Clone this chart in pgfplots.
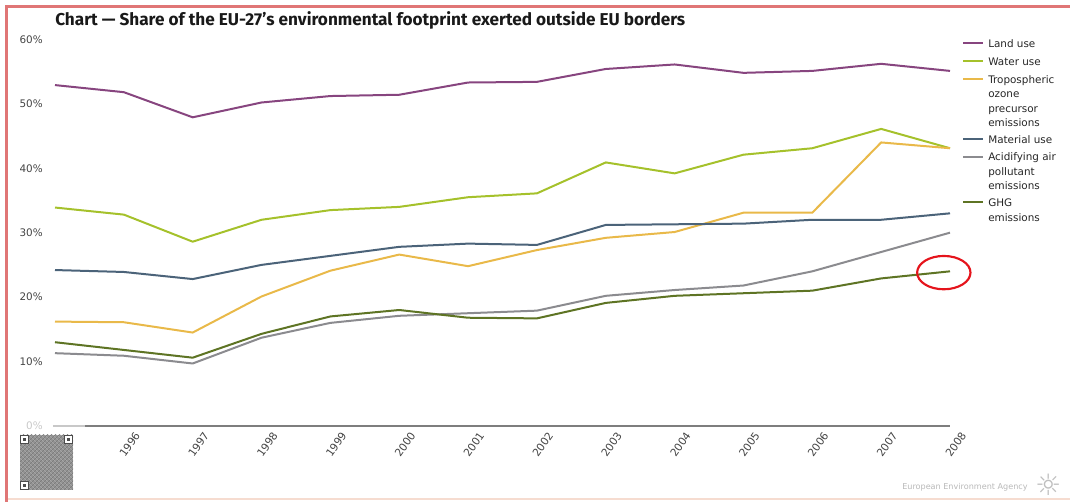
\documentclass[border=0pt]{standalone}
\usepackage{fontspec}
\usepackage{pgfplots}
\pgfplotsset{compat=1.18}
\usetikzlibrary{patterns}
\setmainfont{DejaVu Sans}
\newfontfamily\titlefont{Fira Sans}

\definecolor{landuse}{HTML}{87457F}
\definecolor{wateruse}{HTML}{A5C12B}
\definecolor{ozone}{HTML}{E9B949}
\definecolor{material}{HTML}{4B6379}
\definecolor{acid}{HTML}{8B8B8F}
\definecolor{ghg}{HTML}{5E7424}
\definecolor{ticklab}{HTML}{444444}
\definecolor{zerogray}{HTML}{C8C8C8}
\definecolor{axisgray}{HTML}{7E7E7E}
\definecolor{frame}{HTML}{E07676}
\definecolor{framelow}{HTML}{F6DCD0}
\definecolor{ringred}{HTML}{E5141C}

\pgfplotstableread{
year land water ozone material acid ghg
1995 52.9 33.9 16.2 24.2 11.3 13.0
1996 51.8 32.8 16.1 23.9 10.9 11.8
1997 47.9 28.6 14.5 22.8  9.7 10.6
1998 50.2 32.0 20.1 25.0 13.7 14.3
1999 51.2 33.5 24.1 26.4 16.0 17.0
2000 51.4 34.0 26.6 27.8 17.1 18.0
2001 53.3 35.5 24.8 28.3 17.5 16.8
2002 53.4 36.1 27.3 28.1 17.9 16.7
2003 55.4 40.9 29.2 31.2 20.2 19.1
2004 56.1 39.2 30.1 31.3 21.1 20.2
2005 54.8 42.1 33.1 31.4 21.8 20.6
2006 55.1 43.1 33.1 32.0 24.0 21.0
2007 56.2 46.1 44.0 32.0 27.0 22.9
2008 55.1 43.1 43.1 33.0 30.0 24.0
}\footprint

\begin{document}
\begin{tikzpicture}
\useasboundingbox (0,0) rectangle (802.5pt,376.5pt);

\begin{axis}[
  at={(41.25pt,57pt)}, anchor=south west,
  scale only axis, width=671.25pt, height=290pt,
  xmin=1995, xmax=2008, ymin=0, ymax=60,
  axis line style={draw=none},
  major tick length=0pt,
  xtick={1996,1997,1998,1999,2000,2001,2002,2003,2004,2005,2006,2007,2008},
  xticklabels={1996,1997,1998,1999,2000,2001,2002,2003,2004,2005,2006,2007,2008},
  ytick={0,10,20,30,40,50,60},
  yticklabels={\textcolor{zerogray}{0\%},10\%,20\%,30\%,40\%,50\%,60\%},
  xticklabel style={rotate=55, anchor=east, inner sep=0pt,
    font=\fontsize{8}{9}\selectfont, text=ticklab, xshift=1.5pt, yshift=-11.5pt},
  yticklabel style={anchor=east, inner sep=0pt,
    font=\fontsize{7.8}{9}\selectfont, text=ticklab, xshift=-9pt},
  clip=false,
  every axis plot/.append style={line width=1.5pt, mark=none, line join=round},
]
% baseline at zero
\draw[zerogray, line width=1pt] (axis cs:1994.97,0) -- (axis cs:1995.44,0);
\draw[axisgray, line width=1.5pt] (axis cs:1995.44,0) -- (axis cs:2008,0);

\addplot[landuse]  table[x=year, y=land]     {\footprint};
\addplot[wateruse] table[x=year, y=water]    {\footprint};
\addplot[ozone]    table[x=year, y=ozone]    {\footprint};
\addplot[material] table[x=year, y=material] {\footprint};
\addplot[acid]     table[x=year, y=acid]     {\footprint};
\addplot[ghg]      table[x=year, y=ghg]      {\footprint};

% highlight of the latest GHG value
\draw[ringred, line width=1.6pt] (axis cs:2007.91,23.8) ellipse [x radius=20pt, y radius=12.5pt];
\end{axis}

% frame, title, legend and footer, in pixel-like units from the top left
\begin{scope}[shift={(0,376.5pt)}, x=0.75pt, y=-0.75pt]
  \draw[framelow, line width=1.2pt] (6.5,499) -- (1070,499);
  \draw[frame, line width=1.6pt] (6.5,502) -- (6.5,6.5) -- (1070,6.5);

  \node[anchor=west, inner sep=0pt, text=black!90] at (55,20)
    {\resizebox{472.5pt}{!}{\titlefont\bfseries Chart — Share of the EU-27’s environmental footprint exerted outside EU borders}};

  \tikzset{leg/.style={anchor=base west, inner sep=0pt, text=black!85,
      font=\fontsize{7.8}{9}\selectfont}}
  \draw[landuse,  line width=1.5pt] (963,43.5) -- (983,43.5);
  \node[leg] at (988,47.5) {Land use};
  \draw[wateruse, line width=1.5pt] (963,61.5) -- (983,61.5);
  \node[leg] at (988,65.5) {Water use};
  \draw[ozone,    line width=1.5pt] (963,79.5) -- (983,79.5);
  \node[leg] at (988,83.5) {Tropospheric};
  \node[leg] at (988,97.8) {ozone};
  \node[leg] at (988,112.1) {precursor};
  \node[leg] at (988,126.4) {emissions};
  \draw[material, line width=1.5pt] (963,139.5) -- (983,139.5);
  \node[leg] at (988,143.5) {Material use};
  \draw[acid,     line width=1.5pt] (963,157) -- (983,157);
  \node[leg] at (988,161) {Acidifying air};
  \node[leg] at (988,175.5) {pollutant};
  \node[leg] at (988,190) {emissions};
  \draw[ghg,      line width=1.5pt] (963,202.5) -- (983,202.5);
  \node[leg] at (988,206.5) {GHG};
  \node[leg] at (988,221.5) {emissions};

  % QR code block
  \fill[black!42] (20,435) rectangle (73,490);
  \fill[pattern=crosshatch dots, pattern color=white] (20,435) rectangle (73,490);
  \fill[pattern=north east lines, pattern color=black!55] (20,435) rectangle (73,490);
  \foreach \qx/\qy in {20/435, 64/435, 20/481} {
    \fill[white] (\qx,\qy) rectangle ++(9,9);
    \draw[black!70, line width=0.9pt] (\qx+0.5,\qy+0.5) rectangle ++(8,8);
    \fill[black!70] (\qx+3,\qy+3) rectangle ++(3,3);
  }

  % agency footer
  \node[anchor=west, inner sep=0pt, text=black!28] at (902,487)
    {\resizebox{94pt}{!}{European Environment Agency}};
  \node[inner sep=0pt, text=black!25] at (1049,485)
    {\fontsize{22}{22}\selectfont ☼};
\end{scope}
\end{tikzpicture}
\end{document}
